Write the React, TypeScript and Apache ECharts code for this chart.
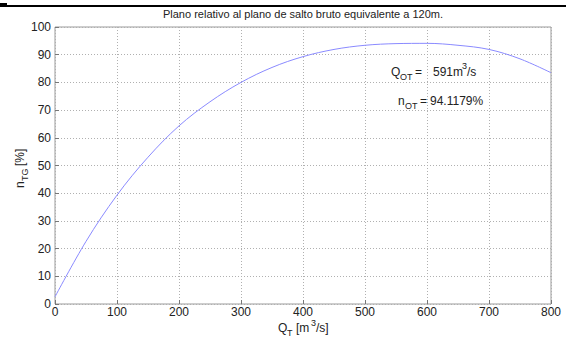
import React, { useEffect, useRef } from "react";
import * as echarts from "echarts";

const titleText = "Plano relativo al plano de salto bruto equivalente a 120m.";
const qValues = [0, 50, 100, 150, 200, 250, 300, 350, 400, 450, 500, 550, 600, 650, 700, 750, 800];
const etaValues = [2.6, 22.6, 39.3, 53.0, 64.3, 73.0, 80.0, 85.4, 89.3, 91.9, 93.4, 94.0, 94.1, 93.4, 91.9, 88.5, 83.5];
const xTicks = [0, 100, 200, 300, 400, 500, 600, 700, 800];
const yTicks = [0, 10, 20, 30, 40, 50, 60, 70, 80, 90, 100];
const qOpt = "591";
const etaOpt = "94.1179";

const FONT = "Arial, 'Liberation Sans', sans-serif";

export default function App() {
  const ref = useRef<HTMLDivElement>(null);
  useEffect(() => {
    if (!ref.current) return;
    const chart = echarts.init(ref.current, null, { renderer: "svg" });
    const txt = (x: number, y: number, text: string, size = 12, extra: any = {}) => ({
      type: "text",
      x,
      y,
      style: { text, fontSize: size, fontFamily: FONT, fill: "#222", textVerticalAlign: "middle", ...extra },
    });
    chart.setOption({
      animation: false,
      backgroundColor: "#fff",
      grid: { left: 55, right: 15, top: 27, bottom: 37, show: true, borderColor: "#9a9a9a", borderWidth: 1, containLabel: false },
      xAxis: {
        type: "value",
        min: xTicks[0],
        max: xTicks[xTicks.length - 1],
        interval: 100,
        axisLine: { show: false },
        axisTick: { show: true, inside: true, length: 4, lineStyle: { color: "#777" } },
        axisLabel: { fontSize: 12, fontFamily: FONT, color: "#222", margin: 2 },
        splitLine: { show: true, lineStyle: { color: "#b0b0b0", type: [1, 2] } },
      },
      yAxis: {
        type: "value",
        min: yTicks[0],
        max: yTicks[yTicks.length - 1],
        interval: 10,
        axisLine: { show: false },
        axisTick: { show: true, inside: true, length: 4, lineStyle: { color: "#777" } },
        axisLabel: { fontSize: 12, fontFamily: FONT, color: "#222", margin: 4 },
        splitLine: { show: true, lineStyle: { color: "#b0b0b0", type: [1, 2] } },
      },
      series: [
        {
          type: "line",
          data: qValues.map((q, i) => [q, etaValues[i]]),
          smooth: 0.35,
          showSymbol: false,
          lineStyle: { color: "#8a8aff", width: 1 },
        },
      ],
      graphic: [
        { type: "line", shape: { x1: 0, y1: 6, x2: 566, y2: 6 }, style: { stroke: "#000", lineWidth: 2 } },
        { type: "rect", shape: { x: 0, y: 3, width: 7, height: 3 }, style: { fill: "#000" } },
        txt(303, 14, titleText, 11, { textAlign: "center" }),
        // Q_OT annotation
        txt(391, 72, "Q"),
        txt(400, 77, "OT", 9),
        txt(415, 72, "="),
        txt(433, 72, qOpt + "m"),
        txt(462, 66, "3", 9),
        txt(467, 72, "/s"),
        // n_OT annotation
        txt(398, 101, "n"),
        txt(405, 106, "OT", 9),
        txt(420, 101, "="),
        txt(430, 101, etaOpt + "%"),
        // x axis name
        txt(278, 328, "Q"),
        txt(287, 333, "T", 9),
        txt(296, 328, "[m"),
        txt(311, 323, "3", 9),
        txt(316, 328, "/s]"),
        // y axis name (rotated)
        {
          type: "group",
          x: 20,
          y: 168,
          rotation: Math.PI / 2,
          children: [
            txt(-20, 0, "n"),
            txt(-13, 5, "TG", 9),
            txt(2, 0, "[%]"),
          ],
        },
      ],
    });
    return () => chart.dispose();
  }, []);
  return <div ref={ref} style={{ position: "fixed", left: 0, top: 0, width: 566, height: 341 }} />;
}
